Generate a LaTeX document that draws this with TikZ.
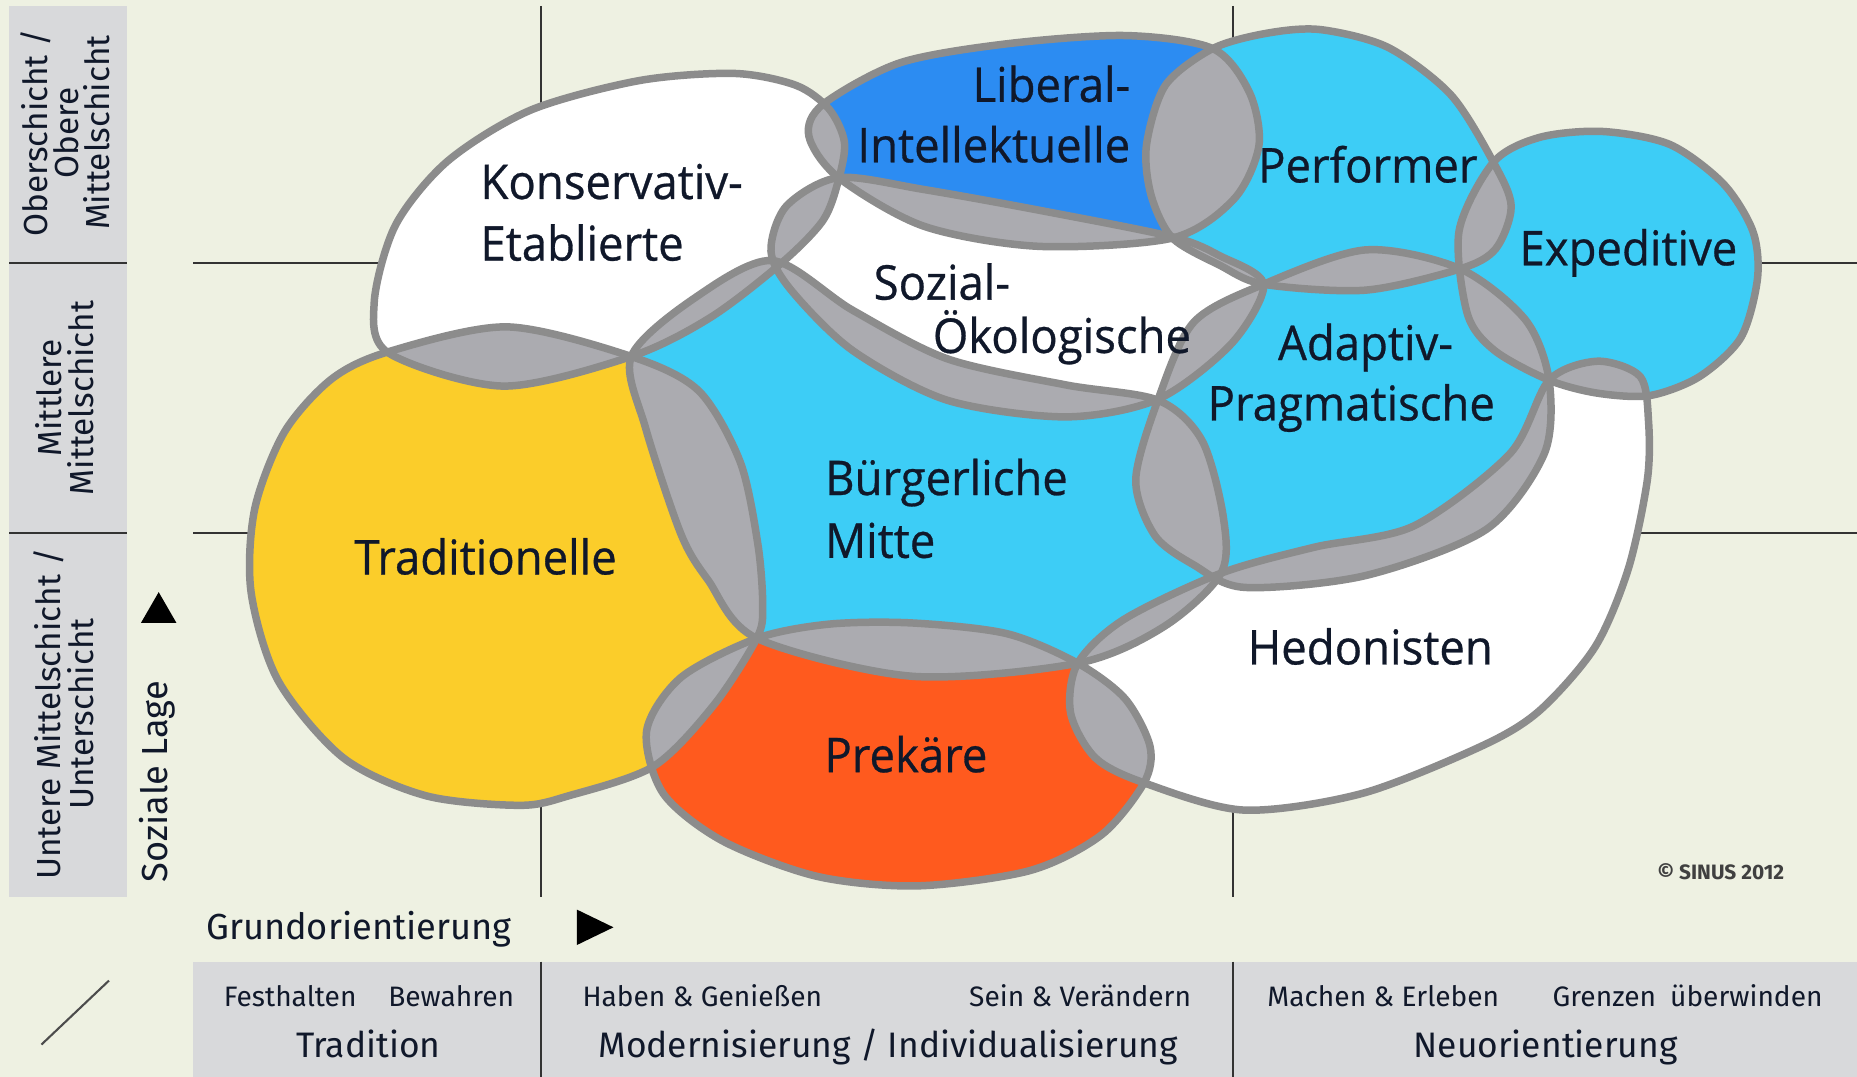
\documentclass[tikz,border=0pt]{standalone}
\usepackage{fontspec}
\setmainfont[FakeStretch=0.95,FakeBold=0.6]{Open Sans}
\newfontfamily\axisfont{Fira Sans}

\definecolor{paper}{HTML}{EEF1E2}
\definecolor{boxgray}{HTML}{D8D9DB}
\definecolor{ringgray}{HTML}{8C8C8C}
\definecolor{lensgray}{HTML}{ABABB0}
\definecolor{skyblue}{HTML}{3DCDF6}
\definecolor{deepblue}{HTML}{2C8CF2}
\definecolor{sunyellow}{HTML}{FBCD2A}
\definecolor{redorange}{HTML}{FF5A1E}
\definecolor{ink}{HTML}{10182A}

\newcommand\blobKE{plot[smooth cycle] coordinates{(316,255) (334,190) (378,136) (448,93) (540,68) (620,62) (672,72) (700,92) (713,120) (708,152) (695,186) (660,222) (600,268) (533,301) (425,326) (328,298)}}
\newcommand\blobLI{plot[smooth cycle] coordinates{(683,115) (695,88) (760,53) (850,37) (950,30) (1024,41) (1055,78) (1063,123) (1042,168) (990,201) (877,208) (780,191) (708,150)}}
\newcommand\blobPF{plot[smooth cycle] coordinates{(968,123) (984,72) (1024,41) (1070,28) (1115,25) (1172,40) (1225,80) (1261,137) (1276,174) (1263,210) (1233,227) (1153,245) (1067,240) (1030,224) (990,201) (972,165)}}
\newcommand\blobEX{plot[smooth cycle] coordinates{(1232,195) (1261,137) (1300,116) (1353,111) (1410,122) (1455,155) (1480,195) (1484,235) (1470,285) (1435,318) (1393,334) (1349,332) (1308,321) (1262,296) (1239,265)}}
\newcommand\blobSO{plot[smooth cycle] coordinates{(651,212) (664,174) (708,150) (780,160) (880,178) (990,200) (1030,216) (1067,240) (1040,290) (978,337) (900,352) (800,338) (720,296) (668,245)}}
\newcommand\blobAP{plot[smooth cycle] coordinates{(1067,240) (1153,211) (1233,227) (1288,270) (1308,321) (1304,383) (1255,447) (1153,486) (1051,496) (1008,477) (975,452) (959,405) (978,337) (1008,272)}}
\newcommand\blobBM{plot[smooth cycle] coordinates{(533,301) (586,252) (652,220) (720,262) (800,303) (900,325) (978,338) (1015,372) (1033,437) (1031,484) (983,529) (910,560) (770,571) (639,539) (598,490) (575,451) (545,361)}}
\newcommand\blobTR{plot[smooth cycle] coordinates{(328,297) (428,276) (533,301) (590,330) (625,390) (640,460) (644,512) (639,539) (603,595) (552,647) (480,672) (439,680) (360,672) (290,640) (235,575) (212,500) (215,430) (240,365) (280,320)}}
\newcommand\blobPR{plot[smooth cycle] coordinates{(639,539) (700,527) (770,526) (850,535) (910,560) (950,590) (971,630) (966,661) (930,705) (870,735) (775,748) (690,740) (610,710) (560,670) (546,617) (575,572)}}
\newcommand\blobHE{plot[smooth cycle] coordinates{(910,560) (949,523) (1031,484) (1110,462) (1194,444) (1275,383) (1308,321) (1349,305) (1385,318) (1392,356) (1391,405) (1375,480) (1347,546) (1300,600) (1251,630) (1150,670) (1050,684) (966,661) (925,640) (904,602)}}

\tikzset{
  ring/.style={draw=ringgray,line width=1.8pt},
  gridline/.style={draw=black!80,line width=0.5pt},
  milieulabel/.style={font=\fontsize{11.5}{13}\selectfont,text=ink,inner sep=0pt},
  strata/.style={font=\axisfont\fontsize{8}{9}\selectfont,text=ink,inner sep=0pt,rotate=90},
  valuelabel/.style={font=\axisfont\fontsize{6.75}{8}\selectfont,text=ink,inner sep=0pt},
  orientlabel/.style={font=\axisfont\fontsize{8.5}{10}\selectfont,text=ink,inner sep=0pt}
}

\begin{document}
\begin{tikzpicture}[x=0.01cm,y=-0.01cm]
\fill[paper] (0,0) rectangle (1568,909);
\useasboundingbox (0,0) rectangle (1568,909);
\fill[boxgray] (8,5) rectangle (107,757);
\fill[boxgray] (163,812) rectangle (1568,909);
\foreach \y in {222,450} \draw[gridline] (8,\y) -- (107,\y) (163,\y) -- (1568,\y);
\foreach \x in {457,1041} \draw[gridline] (\x,5) -- (\x,757) (\x,812) -- (\x,909);
\draw[black!70,line width=0.5pt] (35,882) -- (92,828);
\fill[black] (119,526) -- (149,526) -- (134,500) -- cycle;
\fill[black] (487,768) -- (487,798) -- (518,783) -- cycle;

\foreach \b/\col in {KE/white,LI/deepblue,PF/skyblue,EX/skyblue,SO/white,AP/skyblue,BM/skyblue,TR/sunyellow,PR/redorange,HE/white}{
  \expandafter\let\expandafter\curblob\csname blob\b\endcsname
  \fill[\col] \curblob;
}
\foreach \a/\b in {KE/TR,KE/BM,KE/SO,KE/LI,LI/SO,LI/PF,PF/SO,PF/AP,PF/EX,EX/AP,EX/HE,SO/AP,SO/BM,AP/BM,AP/HE,BM/TR,BM/PR,BM/HE,TR/PR,PR/HE}{
  \expandafter\let\expandafter\blobA\csname blob\a\endcsname
  \expandafter\let\expandafter\blobB\csname blob\b\endcsname
  \begin{scope}
    \clip \blobA;
    \fill[lensgray] \blobB;
  \end{scope}
}
\foreach \b in {KE,LI,PF,EX,SO,AP,BM,TR,PR,HE}{
  \expandafter\let\expandafter\curblob\csname blob\b\endcsname
  \draw[ring] \curblob;
}

\node[milieulabel,anchor=base west] (ke1) at (405,168) {Konservativ-};
\node[milieulabel,anchor=base west] (ke2) at (405,220) {Etablierte};
\node[milieulabel,anchor=base east] (li1) at (955,86) {Liberal-};
\node[milieulabel,anchor=base east] (li2) at (955,137) {Intellektuelle};
\node[milieulabel,anchor=base] (pf) at (1155,154) {Performer};
\node[milieulabel,anchor=base] (ex) at (1375,224) {Expeditive};
\node[milieulabel,anchor=base west] (so1) at (737,253) {Sozial-};
\node[milieulabel,anchor=base west] (so2) at (787,298) {Ökologische};
\node[milieulabel,anchor=base] (ap1) at (1153,304) {Adaptiv-};
\node[milieulabel,anchor=base] (ap2) at (1141,355) {Pragmatische};
\node[milieulabel,anchor=base west] (bm1) at (696,418) {Bürgerliche};
\node[milieulabel,anchor=base west] (bm2) at (696,471) {Mitte};
\node[milieulabel,anchor=base] (tr) at (410,485) {Traditionelle};
\node[milieulabel,anchor=base] (pr) at (765,652) {Prekäre};
\node[milieulabel,anchor=base] (he) at (1157,561) {Hedonisten};

\node[strata] (st1) at (30,112) {Oberschicht /};
\node[strata] (st2) at (56,112) {Obere};
\node[strata] (st3) at (82,112) {Mittelschicht};
\node[strata] (st4) at (41,336) {Mittlere};
\node[strata] (st5) at (68,336) {Mittelschicht};
\node[strata] (st6) at (41,603) {Untere Mittelschicht /};
\node[strata] (st7) at (68,603) {Unterschicht};
\node[orientlabel,font=\axisfont\fontsize{8.7}{10}\selectfont,rotate=90] (lage) at (133,660) {Soziale Lage};
\node[orientlabel,font=\axisfont\fontsize{8.7}{10}\selectfont,anchor=base] (grund) at (303,793) {Grundorientierung};

\node[valuelabel,anchor=base] (v1) at (245,850) {Festhalten};
\node[valuelabel,anchor=base] (v2) at (381,850) {Bewahren};
\node[valuelabel,anchor=base] (v3) at (593,850) {Haben \& Genießen};
\node[valuelabel,anchor=base] (v4) at (912,850) {Sein \& Verändern};
\node[valuelabel,anchor=base] (v5) at (1168,850) {Machen \& Erleben};
\node[valuelabel,anchor=base] (v6) at (1425,850) {Grenzen\enspace überwinden};
\node[orientlabel,anchor=base] (o1) at (311,893) {Tradition};
\node[orientlabel,anchor=base] (o2) at (750,893) {Modernisierung / Individualisierung};
\node[orientlabel,anchor=base] (o3) at (1305,893) {Neuorientierung};
\node[font=\axisfont\bfseries\fontsize{5}{6}\selectfont,text=black!75,inner sep=0pt] (copy) at (1453,736) {© SINUS 2012};
\end{tikzpicture}
\end{document}
